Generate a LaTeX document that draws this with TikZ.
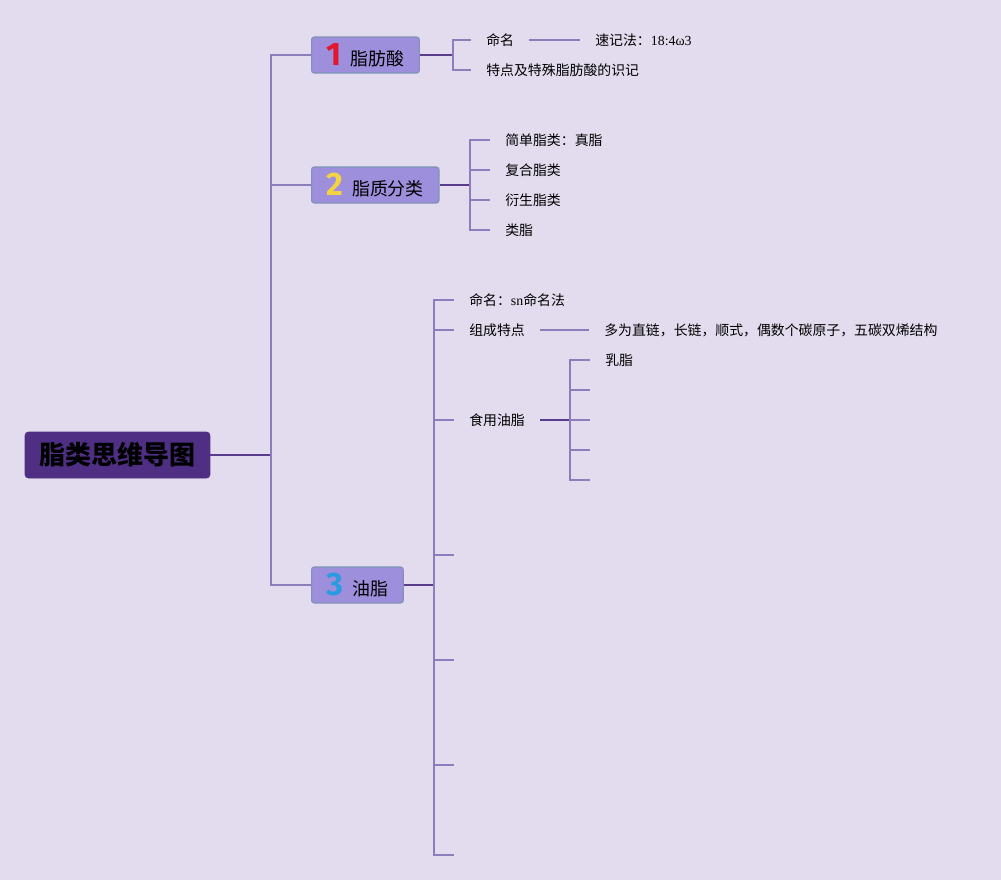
\documentclass[tikz,border=0pt]{standalone}
\usepackage{fontspec}
\setmainfont{Liberation Serif}
\newfontfamily\cjk{Noto Sans CJK SC}
\newfontfamily\numfont{Fira Sans}
\usetikzlibrary{positioning}
\definecolor{bgcol}{HTML}{E3DBEE}
\definecolor{rootfill}{HTML}{4F2F83}
\definecolor{boxfill}{HTML}{9D8FDB}
\definecolor{boxdraw}{HTML}{7F93B7}
\definecolor{darkline}{HTML}{5A3C8C}
\definecolor{lightline}{HTML}{8D7DBD}
\definecolor{numred}{HTML}{E0182D}
\definecolor{numyellow}{HTML}{F5D442}
\definecolor{numblue}{HTML}{2A9BE0}
\newcommand{\badge}[2]{{\numfont\bfseries\fontsize{18.5}{18.5}\selectfont\color{#1}#2}\hspace{0.17cm}}
\newcommand{\serifpart}[1]{{\rmfamily #1}}

\begin{document}
\begin{tikzpicture}[x=0.02cm,y=-0.02cm,
	root/.style={fill=rootfill,draw=rootfill,rounded corners=2pt,minimum width=3.7cm,minimum height=0.92cm,font=\cjk\bfseries\fontsize{14.8}{16}\selectfont},
	topic/.style={anchor=west,fill=boxfill,draw=boxdraw,line width=0.6pt,rounded corners=1.5pt,minimum height=0.72cm,inner ysep=1pt,inner xsep=0.305cm,font=\cjk\fontsize{10.2}{12}\selectfont},
	leaf/.style={anchor=west,inner xsep=0.3cm,inner ysep=1pt,font=\cjk\fontsize{7.9}{9.5}\selectfont},
	stub/.style={draw=darkline,line width=1.1pt},
	branch/.style={draw=lightline,line width=1.1pt}]
	\fill[bgcol] (0,0) rectangle (1001,880);
	\useasboundingbox (0,0) rectangle (1001,880);
	% main topic and its three branches
	\node[root] (root) at (117.5,455) {脂类思维导图};
	\node[topic] (t1) at (311,55) {\badge{numred}{1}脂肪酸};
	\node[topic] (t2) at (311,185) {\badge{numyellow}{2}脂质分类};
	\node[topic] (t3) at (311,585) {\badge{numblue}{3}油脂};
	\coordinate (rj) at (271,455);
	\draw[stub] (root) -- (rj);
	\draw[branch] (rj) |- (t1.west) (rj) |- (t2.west) (rj) |- (t3.west);
	% 1
	\node[leaf] (n11) at (471,40) {命名};
	\node[leaf] (n111) at (580,40) {速记法：\serifpart{18:4ω3}};
	\node[leaf] (n12) at (471,70) {特点及特殊脂肪酸的识记};
	\coordinate (j1) at (453,55);
	\draw[stub] (t1) -- (j1);
	\draw[branch] (j1) |- (n11.west) (j1) |- (n12.west);
	\draw[branch] (n11) -- (n111);
	% 2
	\node[leaf] (n21) at (490,140) {简单脂类：真脂};
	\node[leaf] (n22) at (490,170) {复合脂类};
	\node[leaf] (n23) at (490,200) {衍生脂类};
	\node[leaf] (n24) at (490,230) {类脂};
	\coordinate (j2) at (470,185);
	\draw[stub] (t2) -- (j2);
	\draw[branch] (j2) |- (n21.west) (j2) |- (n22.west) (j2) |- (n23.west) (j2) |- (n24.west);
	% 3
	\node[leaf] (n31) at (454,300) {命名：\serifpart{sn}命名法};
	\node[leaf] (n32) at (454,330) {组成特点};
	\node[leaf] (n321) at (589,330) {多为直链，长链，顺式，偶数个碳原子，五碳双烯结构};
	\node[leaf] (n33) at (454,420) {食用油脂};
	\node[leaf] (n331) at (590,360) {乳脂};
	\coordinate (j3) at (434,585);
	\coordinate (j33) at (570,420);
	\foreach \k/\y in {4/555,5/660,6/765,7/855} \coordinate (e3\k) at (454,\y);
	\foreach \k/\y in {2/390,3/420,4/450,5/480} \coordinate (e33\k) at (590,\y);
	\draw[stub] (t3) -- (j3);
	\draw[branch] (j3) |- (n31.west) (j3) |- (n32.west) (j3) |- (n33.west);
	\foreach \k in {4,...,7} \draw[branch] (j3) |- (e3\k);
	\draw[branch] (n32) -- (n321);
	\draw[stub] (n33) -- (j33);
	\draw[branch] (j33) |- (n331.west);
	\foreach \k in {2,...,5} \draw[branch] (j33) |- (e33\k);
\end{tikzpicture}
\end{document}
